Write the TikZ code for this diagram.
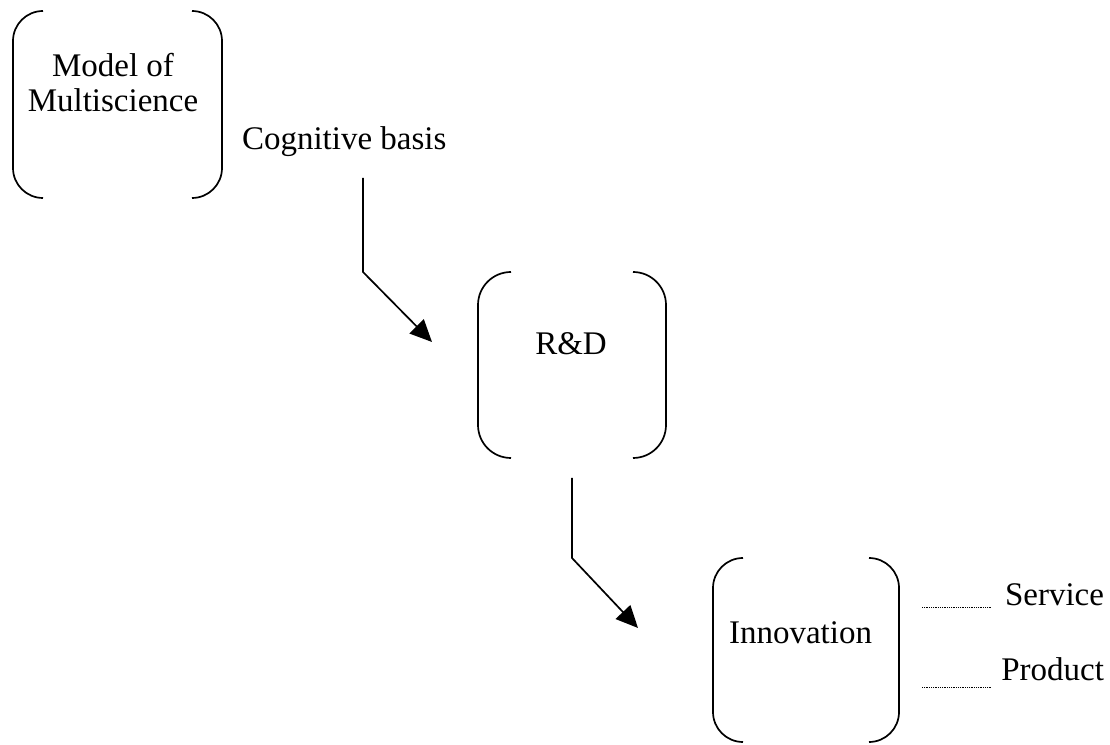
\documentclass[tikz,border=0pt]{standalone}
\usepackage{fontspec}
\setmainfont{Liberation Serif}
\usetikzlibrary{arrows.meta}
\tikzset{
  bbox/.style={draw=none, inner sep=0pt, outer sep=0pt},
  txt/.style={inner sep=0pt, outer sep=0pt, font=\fontsize{33}{35}\selectfont, align=center},
  flow/.style={line width=1.7pt, -{Triangle[length=22pt,width=20pt]}},
  bracket/.style={line width=1.7pt},
  dots/.style={line width=0.8pt, dash pattern=on 0.9pt off 0.9pt}
}
\newcommand{\bracketbox}[2]{%
  \draw[bracket] ([xshift=#2]#1.north west) arc[start angle=90,end angle=180,radius=#2]
     -- ([yshift=#2]#1.south west) arc[start angle=180,end angle=270,radius=#2];
  \draw[bracket] ([xshift=-#2]#1.north east) arc[start angle=90,end angle=0,radius=#2]
     -- ([yshift=#2]#1.south east) arc[start angle=0,end angle=-90,radius=#2];
}
\begin{document}
\begin{tikzpicture}[x=1pt,y=1pt]
\useasboundingbox (0,0) rectangle (1110,744);
% boxes
\node[bbox, minimum width=209pt, minimum height=187pt] (mbox) at (117.5,639.5) {};
\node[bbox, minimum width=188pt, minimum height=186pt] (rbox) at (572,379) {};
\node[bbox, minimum width=186pt, minimum height=184pt] (ibox) at (806,94) {};
\bracketbox{mbox}{30pt}
\bracketbox{rbox}{33pt}
\bracketbox{ibox}{30pt}
% texts
\node[txt, anchor=base] (mtxt) at (113,632) {Model of\\Multiscience};
\node[txt, anchor=base west] (cog) at (242,594) {Cognitive basis};
\node[txt, anchor=base] (rtxt) at (571,389) {R\&D};
\node[txt, anchor=base] (itxt) at (800.5,101) {Innovation};
\node[txt, anchor=base east] (serv) at (1104,138) {Service};
\node[txt, anchor=base east] (prod) at (1104,64) {Product};
% connectors
\coordinate (a1s) at (363,566);
\coordinate (a1b) at (363,472);
\coordinate (a1t) at (432,402);
\coordinate (a2s) at (572,266);
\coordinate (a2b) at (572,186);
\coordinate (a2t) at (638,116);
\draw[flow] (a1s) -- (a1b) -- (a1t);
\draw[flow] (a2s) -- (a2b) -- (a2t);
\coordinate (d1s) at (922,137);
\coordinate (d2s) at (922,57);
\draw[dots] (d1s) -- ([xshift=-13pt]serv.base west |- d1s);
\draw[dots] (d2s) -- ([xshift=-10pt]prod.base west |- d2s);
\end{tikzpicture}
\end{document}
